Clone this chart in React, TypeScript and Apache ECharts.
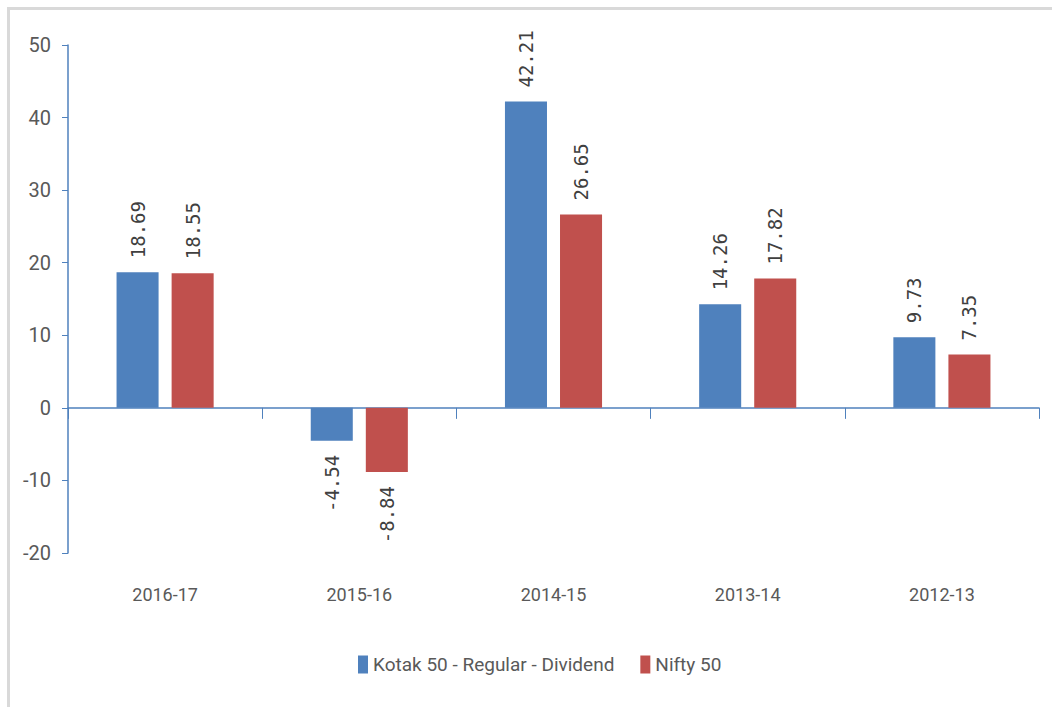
import React, { useEffect, useRef } from "react";
import * as echarts from "echarts";

const categories = ["2016-17", "2015-16", "2014-15", "2013-14", "2012-13"];
const kotakValues = [18.69, -4.54, 42.21, 14.26, 9.73];
const niftyValues = [18.55, -8.84, 26.65, 17.82, 7.35];
const seriesNames = ["Kotak 50 - Regular - Dividend", "Nifty 50"];
const yTicks = { min: -20, max: 50, interval: 10 };

const AXIS_COLOR = "#4F81BD";
const TEXT_COLOR = "#595959";
const NARROW = "Roboto, sans-serif";

function toData(values: number[]) {
  return values.map((v) =>
    v < 0
      ? { value: v, label: { position: "bottom", align: "right" } }
      : { value: v }
  );
}

const barLabel = {
  show: true,
  position: "top",
  rotate: 90,
  align: "left",
  verticalAlign: "middle",
  distance: 14,
  fontFamily: "'DejaVu Sans Mono', monospace",
  fontSize: 19,
  color: "#404040",
  formatter: (p: any) => String(p.value),
};

export default function App() {
  const ref = useRef<HTMLDivElement>(null);
  useEffect(() => {
    if (!ref.current) return;
    const chart = echarts.init(ref.current, null, { renderer: "svg" });
    chart.setOption({
      animation: false,
      backgroundColor: "#ffffff",
      graphic: [
        {
          type: "rect",
          shape: { x: 8.5, y: 8.5, width: 1100, height: 800 },
          style: { fill: "none", stroke: "#d9d9d9", lineWidth: 3 },
          silent: true,
        },
      ],
      grid: { left: 68, right: 13, top: 45, bottom: 154 },
      legend: {
        left: 353,
        top: 650,
        itemWidth: 10,
        itemHeight: 18,
        itemGap: 26,
        icon: "rect",
        textStyle: { fontFamily: NARROW, fontSize: 19, color: TEXT_COLOR },
        data: seriesNames,
      },
      xAxis: [
        {
          type: "category",
          data: categories,
          position: "bottom",
          axisLine: { show: true, onZero: true, lineStyle: { color: AXIS_COLOR, width: 1.5 } },
          axisTick: { show: true, length: 11, alignWithLabel: false, lineStyle: { color: AXIS_COLOR } },
          axisLabel: { show: false },
          splitLine: { show: false },
        },
        {
          type: "category",
          data: categories,
          position: "bottom",
          axisLine: { show: false, onZero: false },
          axisTick: { show: false },
          axisLabel: { show: true, margin: 32, fontFamily: NARROW, fontSize: 18, color: TEXT_COLOR },
          splitLine: { show: false },
        },
      ],
      yAxis: {
        type: "value",
        min: yTicks.min,
        max: yTicks.max,
        interval: yTicks.interval,
        axisLine: { show: true, lineStyle: { color: AXIS_COLOR, width: 1.5 } },
        axisTick: { show: true, length: 6, lineStyle: { color: AXIS_COLOR } },
        axisLabel: { margin: 17, fontFamily: NARROW, fontSize: 20, color: TEXT_COLOR },
        splitLine: { show: false },
      },
      series: [
        {
          name: seriesNames[0],
          type: "bar",
          xAxisIndex: 0,
          data: toData(kotakValues),
          itemStyle: { color: "#4F81BD" },
          barGap: "31%",
          barCategoryGap: "50%",
          label: barLabel,
        },
        {
          name: seriesNames[1],
          type: "bar",
          xAxisIndex: 0,
          data: toData(niftyValues),
          itemStyle: { color: "#C0504D" },
          barGap: "31%",
          barCategoryGap: "50%",
          label: barLabel,
        },
      ],
    });
    return () => chart.dispose();
  }, []);
  return (
    <div
      ref={ref}
      style={{ position: "fixed", left: 0, top: 0, width: 1052, height: 707 }}
    />
  );
}
